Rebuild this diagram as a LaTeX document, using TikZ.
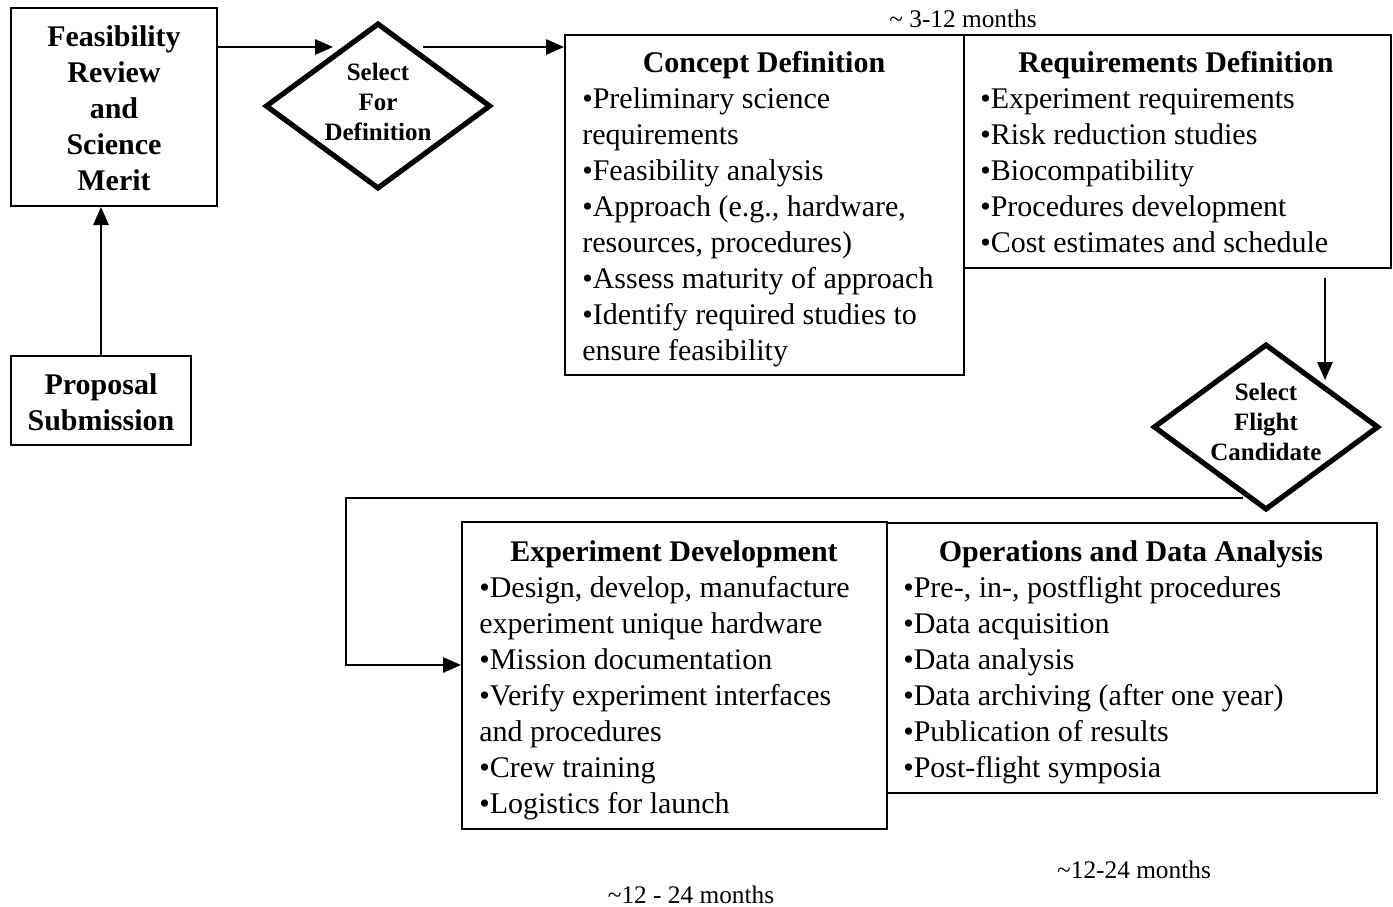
\documentclass[tikz,border=0pt]{standalone}
\usepackage{fontspec}
\setmainfont{Liberation Serif}
\usetikzlibrary{shapes.geometric,arrows.meta,fit}
\newcommand\mystrut{\rule{0pt}{16.5pt}}
\newcommand\dstrut{\rule{0pt}{13.5pt}}
\begin{document}
\begin{tikzpicture}[x=0.75pt,y=-0.75pt,
  box/.style={draw,line width=1.5pt,inner sep=0pt},
  body/.style={font=\fontsize{22.5}{27}\selectfont,align=left,inner sep=0pt,anchor=north west},
  ttl/.style={font=\fontsize{22.5}{27}\selectfont\bfseries,inner sep=0pt,anchor=base},
  btext/.style={font=\fontsize{22.5}{27}\selectfont\bfseries,align=center,inner sep=0pt,anchor=north},
  dtext/.style={font=\fontsize{18.75}{22.5}\selectfont\bfseries,align=center,inner sep=0pt,anchor=north},
  dia/.style={draw,diamond,line width=3.9pt,inner sep=0pt,minimum width=169pt,minimum height=124.5pt},
  arr/.style={line width=1.5pt,-{Triangle[length=13.5pt,width=11.5pt]}},
  lbl/.style={font=\fontsize{19}{22}\selectfont,inner sep=0pt,anchor=base}]
\useasboundingbox (0,0) rectangle (1393,907);

% box corners
\coordinate (f1) at (11,8);    \coordinate (f2) at (217,206);
\coordinate (p1) at (11,356);  \coordinate (p2) at (191,445);
\coordinate (c1) at (565,35);  \coordinate (c2) at (964,375);
\coordinate (r1) at (964,35);  \coordinate (r2) at (1391,268);
\coordinate (e1) at (462,522); \coordinate (e2) at (887,829);
\coordinate (o1) at (887,523); \coordinate (o2) at (1377,793);

\node[box,fit=(f1)(f2)] (feas) {};
\node[box,fit=(p1)(p2)] (prop) {};
\node[box,fit=(c1)(c2)] (concept) {};
\node[box,fit=(r1)(r2)] (req) {};
\node[box,fit=(e1)(e2)] (exp) {};
\node[box,fit=(o1)(o2)] (ops) {};

\node[dia] (d1) at (378,106) {};
\node[dia] (d2) at (1266,427) {};

% texts
\node[btext] (feast) at (114,24) {\mystrut Feasibility\\Review\\and\\Science\\Merit};
\node[btext] (propt) at (101,372) {\mystrut Proposal\\Submission};
\node[dtext] (d1t) at (378,62) {\dstrut Select\\For\\Definition};
\node[dtext] (d2t) at (1266,382) {\dstrut Select\\Flight\\Candidate};

\node[ttl] (ct) at (764,72) {Concept Definition};
\node[body] (cb) at (582,86) {\mystrut •Preliminary science\\requirements\\•Feasibility analysis\\•Approach (e.g., hardware,\\resources, procedures)\\•Assess maturity of approach\\•Identify required studies to\\ensure feasibility};

\node[ttl] (rt) at (1176,72) {Requirements Definition};
\node[body] (rb) at (980,86) {\mystrut •Experiment requirements\\•Risk reduction studies\\•Biocompatibility\\•Procedures development\\•Cost estimates and schedule};

\node[ttl] (et) at (674,561) {Experiment Development};
\node[body] (eb) at (479,575) {\mystrut •Design, develop, manufacture\\experiment unique hardware\\•Mission documentation\\•Verify experiment interfaces\\and procedures\\•Crew training\\•Logistics for launch};

\node[ttl] (ot) at (1131,561) {Operations and Data Analysis};
\node[body] (ob) at (903,575) {\mystrut •Pre-, in-, postflight procedures\\•Data acquisition\\•Data analysis\\•Data archiving (after one year)\\•Publication of results\\•Post-flight symposia};

\node[lbl] (m1) at (963,27) {\textasciitilde\ 3-12 months};
\node[lbl] (m2) at (1134,878) {\textasciitilde12-24 months};
\node[lbl] (m3) at (691,903) {\textasciitilde12 - 24 months};

% connectors
\coordinate (d1in) at (333,47);
\coordinate (d1out) at (423,47);
\coordinate (d2top) at (1325,278);
\coordinate (d2in) at (1325,380);
\coordinate (d2l) at (1243,498);
\coordinate (loopc) at (346,498);
\coordinate (expin) at (462,665);

\draw[arr] (prop.north) -- (prop.north |- feas.south);
\draw[arr] (feas.east |- d1in) -- (d1in);
\draw[arr] (d1out) -- (concept.west |- d1out);
\draw[arr] (d2top) -- (d2in);
\draw[arr] (d2l) -- (loopc) |- (exp.west |- expin);
\end{tikzpicture}
\end{document}
